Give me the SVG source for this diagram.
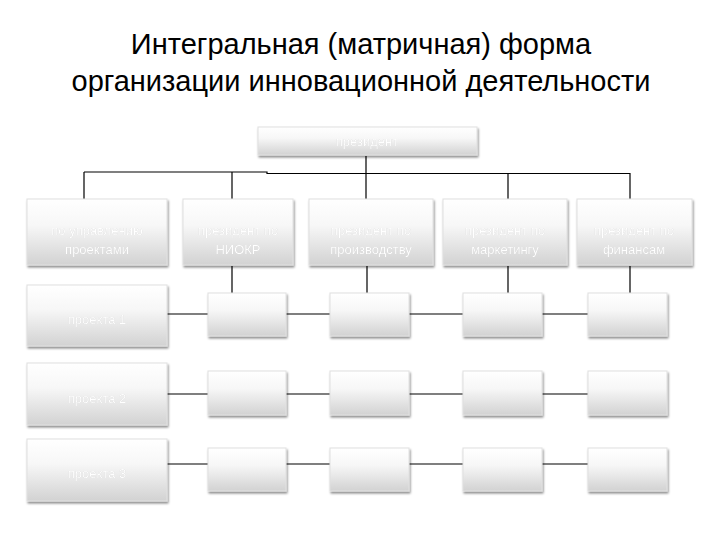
<svg xmlns="http://www.w3.org/2000/svg" width="720" height="540" viewBox="0 0 720 540">
<defs>
<linearGradient id="g" x1="0" y1="0" x2="0" y2="1">
<stop offset="0" stop-color="#ffffff"/>
<stop offset="0.4" stop-color="#f7f7f7"/>
<stop offset="1" stop-color="#d2d2d2"/>
</linearGradient>
<filter id="sh" x="-10%" y="-10%" width="125%" height="135%">
<feDropShadow dx="1" dy="2" stdDeviation="1" flood-color="#000" flood-opacity="0.45"/>
</filter>
<filter id="ts" x="-10%" y="-30%" width="120%" height="160%">
<feDropShadow dx="0" dy="0" stdDeviation="0.6" flood-color="#888" flood-opacity="0.6"/>
</filter>
</defs>
<style>
.box{fill:url(#g);stroke:#e0e0e0;stroke-width:1;filter:url(#sh)}
.lbl{font-family:"Liberation Sans",Arial,sans-serif;font-size:13px;fill:#ffffff;text-anchor:middle;filter:url(#ts)}
.title{font-family:"Liberation Sans",Arial,sans-serif;font-size:29px;fill:#000;text-anchor:middle}
.ln{stroke:#000;stroke-width:1.2;fill:none}
</style>
<rect width="720" height="540" fill="#fff"/>
<text class="title" x="361" y="54">Интегральная (матричная) форма</text>
<text class="title" x="361" y="91">организации инновационной деятельности</text>

<g id="connectors">
<path class="ln" d="M366 156V173M84 172H267V173.5H630M84 172V199M232 172V199M366 173V199M508 173V199M630 173V199"/>
<path class="ln" d="M232 266V293M367 266V293M508 266V293M630 266V293"/>
<path class="ln" d="M167 314H208M286 314H330M409 314H463M542 314H588"/>
<path class="ln" d="M167 394H208M286 394H330M409 394H463M542 394H588"/>
<path class="ln" d="M167 464H208M286 464H330M409 464H463M542 464H588"/>
</g>

<g id="president"><rect class="box" x="258" y="127" width="219" height="28"/><text class="lbl" x="367" y="146">президент</text></g>

<g id="vp-projects"><rect class="box" x="27" y="199" width="140" height="66"/><text class="lbl" x="97" y="235">по управлению</text><text class="lbl" x="97" y="254">проектами</text></g>
<g id="vp-rnd"><rect class="box" x="183" y="199" width="110" height="66"/><text class="lbl" x="238" y="235">президент по</text><text class="lbl" x="238" y="254">НИОКР</text></g>
<g id="vp-prod"><rect class="box" x="309" y="199" width="124" height="66"/><text class="lbl" x="371" y="235">президент по</text><text class="lbl" x="371" y="254">производству</text></g>
<g id="vp-mkt"><rect class="box" x="443" y="199" width="124" height="66"/><text class="lbl" x="505" y="235">президент по</text><text class="lbl" x="505" y="254">маркетингу</text></g>
<g id="vp-fin"><rect class="box" x="577" y="199" width="115" height="66"/><text class="lbl" x="634" y="235">президент по</text><text class="lbl" x="634" y="254">финансам</text></g>

<g id="project1"><rect class="box" x="27" y="285" width="140" height="61"/><text class="lbl" x="97" y="324">проекта 1</text></g>
<g id="project2"><rect class="box" x="27" y="363" width="140" height="62"/><text class="lbl" x="97" y="403">проекта 2</text></g>
<g id="project3"><rect class="box" x="27" y="439" width="140" height="62"/><text class="lbl" x="97" y="478">проекта 3</text></g>

<g id="cell-1-1"><rect class="box" x="208" y="293" width="78" height="43"/></g>
<g id="cell-1-2"><rect class="box" x="330" y="293" width="79" height="43"/></g>
<g id="cell-1-3"><rect class="box" x="463" y="293" width="79" height="43"/></g>
<g id="cell-1-4"><rect class="box" x="588" y="293" width="79" height="43"/></g>

<g id="cell-2-1"><rect class="box" x="208" y="371" width="78" height="44"/></g>
<g id="cell-2-2"><rect class="box" x="330" y="371" width="79" height="44"/></g>
<g id="cell-2-3"><rect class="box" x="463" y="371" width="79" height="44"/></g>
<g id="cell-2-4"><rect class="box" x="588" y="371" width="79" height="44"/></g>

<g id="cell-3-1"><rect class="box" x="208" y="448" width="78" height="43"/></g>
<g id="cell-3-2"><rect class="box" x="330" y="448" width="79" height="43"/></g>
<g id="cell-3-3"><rect class="box" x="463" y="448" width="79" height="43"/></g>
<g id="cell-3-4"><rect class="box" x="588" y="448" width="79" height="43"/></g>
</svg>
